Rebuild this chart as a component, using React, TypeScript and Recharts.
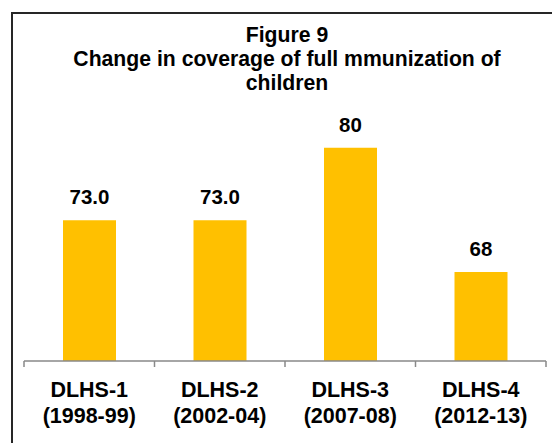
import { BarChart, Bar, XAxis, YAxis, LabelList } from 'recharts';

const ROUNDS = ['DLHS-1', 'DLHS-2', 'DLHS-3', 'DLHS-4'];
const PERIODS = ['(1998-99)', '(2002-04)', '(2007-08)', '(2012-13)'];
const COVERAGE = [73.0, 73.0, 80, 68];
const COVERAGE_LABELS = ['73.0', '73.0', '80', '68'];
const TITLE_LINES = ['Figure 9', 'Change in coverage of full mmunization of', 'children'];

const FONT = '"Liberation Sans", Arial, sans-serif';
const GOLD = '#FFC000';
const AXIS_GREY = '#898989';

const data = ROUNDS.map((name, i) => ({
  name,
  slot: i + 0.5,
  period: PERIODS[i],
  value: COVERAGE[i],
  label: COVERAGE_LABELS[i],
}));

// two-line category label: survey round on top, years below
function RoundTick(props: any) {
  const { x, y, payload, index } = props;
  return (
    <text
      x={x}
      y={y}
      textAnchor="middle"
      fontFamily={FONT}
      fontWeight="bold"
      fontSize={21.5}
      fill="#000"
    >
      <tspan x={x} y={y + 35}>
        {payload.value}
      </tspan>
      <tspan x={x} y={y + 61}>
        {PERIODS[index]}
      </tspan>
    </text>
  );
}

export default function App() {
  return (
    <div
      style={{
        position: 'fixed',
        left: 0,
        top: 0,
        width: 552,
        height: 443,
        overflow: 'hidden',
        background: '#fff',
      }}
    >
      <div
        style={{
          position: 'absolute',
          left: 11,
          top: 12,
          width: 620,
          height: 520,
          border: '2px solid #262626',
        }}
      />
      <div
        style={{
          position: 'absolute',
          left: 0,
          top: 23,
          width: 574,
          textAlign: 'center',
          fontFamily: FONT,
          fontWeight: 'bold',
          fontSize: 21.2,
          lineHeight: '24px',
          color: '#000',
        }}
      >
        {TITLE_LINES.map((t) => (
          <div key={t}>{t}</div>
        ))}
      </div>
      <div style={{ position: 'absolute', left: 0, top: 0 }}>
        <BarChart
          width={552}
          height={443}
          data={data}
          margin={{ top: 96, right: 6, bottom: 80, left: 24 }}
        >
          {/* boundary ticks between survey rounds */}
          <XAxis
            xAxisId="edges"
            type="number"
            dataKey="slot"
            domain={[0, 4]}
            allowDataOverflow
            ticks={[0, 1, 2, 3, 4]}
            tickFormatter={() => ''}
            height={1}
            tickSize={6}
            axisLine={{ stroke: AXIS_GREY, strokeWidth: 1.5 }}
            tickLine={{ stroke: AXIS_GREY, strokeWidth: 1.5 }}
          />
          <XAxis
            xAxisId="rounds"
            dataKey="name"
            height={1}
            axisLine={false}
            tickLine={false}
            tickSize={0}
            tickMargin={0}
            interval={0}
            tick={<RoundTick />}
          />
          <YAxis hide domain={[59.4, 85]} allowDataOverflow />
          <Bar
            xAxisId="rounds"
            dataKey="value"
            fill={GOLD}
            barSize={53}
            isAnimationActive={false}
          >
            <LabelList
              dataKey="label"
              position="top"
              offset={16}
              fontFamily={FONT}
              fontWeight="bold"
              fontSize={20.5}
              fill="#000"
            />
          </Bar>
        </BarChart>
      </div>
    </div>
  );
}
